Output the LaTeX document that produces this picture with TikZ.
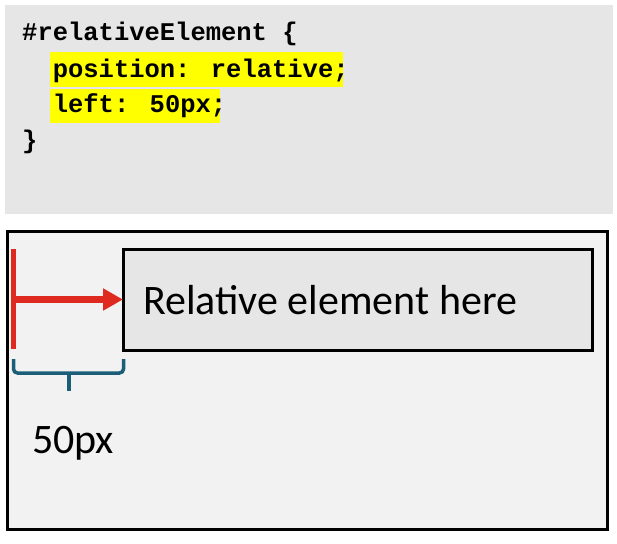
\documentclass[tikz,border=0pt]{standalone}
\usepackage{fontspec}
\newfontfamily\codefont{Liberation Mono}
\newfontfamily\calfont{Carlito}
\usetikzlibrary{arrows.meta}
\definecolor{codegray}{HTML}{E6E6E6}
\definecolor{pagegray}{HTML}{F2F2F2}
\definecolor{hlyellow}{HTML}{FFFF00}
\definecolor{arrowred}{HTML}{DE2A1F}
\definecolor{braceteal}{HTML}{1B5E78}
\begin{document}
\begin{tikzpicture}[x=1pt,y=-1pt,
  codebox/.style={fill=codegray, draw=none, anchor=north west, inner sep=0pt, outer sep=0pt},
  codeline/.style={anchor=base west, inner sep=0pt, font=\codefont\bfseries\fontsize{25.5}{30}\selectfont},
  hl/.style={fill=hlyellow, draw=none, anchor=north west, inner sep=0pt, outer sep=0pt},
  frame/.style={fill=pagegray, draw=black, line width=3pt, anchor=north west, inner sep=0pt, outer sep=0pt},
  elbox/.style={fill=codegray, draw=black, line width=3pt, anchor=north west, inner sep=0pt, outer sep=0pt},
  caltext/.style={anchor=base west, inner sep=0pt, font=\calfont\fontsize{42}{50}\selectfont},
  redline/.style={draw=arrowred, line width=5pt},
  redarrow/.style={draw=arrowred, line width=7pt, -{Triangle[length=20pt,width=21pt]}},
  bracestyle/.style={draw=braceteal, line width=3.5pt, rounded corners=4pt}
]
\useasboundingbox (0,0) rectangle (617,543);
\fill[white] (0,0) rectangle (617,543);
% code box
\node[codebox, minimum width=608pt, minimum height=209pt] (code) at (5,5) {};
\node[hl, minimum width=293pt, minimum height=35pt] (hl1) at (50,52) {};
\node[hl, minimum width=170pt, minimum height=34pt] (hl2) at (50,89) {};
\node[codeline] (l1) at (22,41) {\#relativeElement \{};
\node[codeline] (l2) at (52.6,77) {position: relative;};
\node[codeline] (l3) at (52.6,112) {left: 50px;};
\node[codeline] (l4) at (22,148) {\}};
% lower frame
\node[frame, minimum width=600pt, minimum height=298pt] (outer) at (7,231) {};
\node[elbox, minimum width=469pt, minimum height=101pt] (inner) at (123,249) {};
\node[caltext] (reltext) at (143,314) {Relative element here};
% red bar and arrow
\coordinate (bartop) at (13.5,249);
\coordinate (barbot) at (13.5,349);
\coordinate (barmid) at (13.5,299.5);
\draw[redline] (bartop) -- (barbot);
\draw[redarrow] (barmid) -- (inner.west);
% brace
\coordinate (bl) at (13.5,359);
\coordinate (br) at (123.5,359);
\coordinate (bc) at (68.5,373);
\coordinate (btip) at (68.5,391);
\draw[bracestyle] (bl) -- (13.5,373) -- (123.5,373) -- (br);
\draw[draw=braceteal, line width=4pt] (bc) -- (btip);
\node[caltext] (label) at (32,453) {50px};
\end{tikzpicture}
\end{document}
